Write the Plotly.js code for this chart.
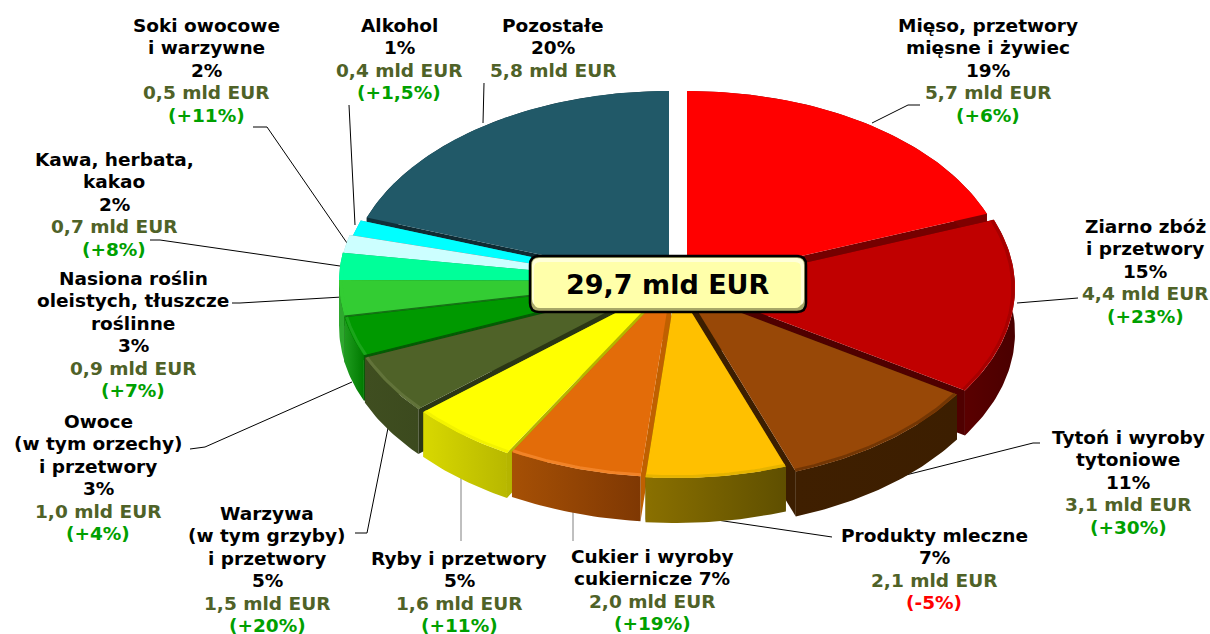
<!DOCTYPE html>
<html><head><meta charset="utf-8">
<script src="https://cdn.plot.ly/plotly-3.0.1.min.js"></script>
<style>html,body{margin:0;padding:0;background:#fff}#c{width:1210px;height:634px}</style>
</head><body><div id="c"></div>
<script>
// ---- data ----
const categories = ["Mięso, przetwory<br>mięsne i żywiec","Ziarno zbóż<br>i przetwory","Tytoń i wyroby<br>tytoniowe","Produkty mleczne","Cukier i wyroby<br>cukiernicze","Ryby i przetwory","Warzywa<br>(w tym grzyby)<br>i przetwory","Owoce<br>(w tym orzechy)<br>i przetwory","Nasiona roślin<br>oleistych, tłuszcze<br>roślinne","Kawa, herbata,<br>kakao","Soki owocowe<br>i warzywne","Alkohol","Pozostałe"];
const valuesMld = [5.7,4.4,3.1,2.1,2.0,1.6,1.5,1.0,0.9,0.7,0.5,0.4,5.8];
const shares = [19,15,11,7,7,5,5,3,3,2,2,1,20];
const growth = ["+6%","+23%","+30%","-5%","+19%","+11%","+20%","+4%","+7%","+8%","+11%","+1,5%",""];
const totalLabel = "29,7 mld EUR";

// ---- style ----
const topColors  = ["#ff0000","#c00000","#984807","#ffc000","#e36c09","#ffff00","#4f6228","#009900","#33cc33","#00ff99","#ccffff","#00ffff","#215968"];
const sideColors = ["#750000","#4f0000","#3c1e00","#6e5800","#c06000","#b5b500","#2b3615","#045c04","#167016","#2f8f6a","#7f9f9f","#2f9f9f","#0f2b33"];
const wallLeft   = ["#7f0000","#5a0000","#3f1f00","#8a7000","#a65005","#d8d800","#3f4e20","#1f9c1f","#2ea82e","#00c070","#a0d0d0","#00c0c0","#10303a"];
const wallRight  = ["#7f0000","#4a0000","#3c1e00","#5f4f00","#7f3803","#b8b800","#3c4a1e","#007a00","#2ea82e","#00c070","#a0d0d0","#00c0c0","#10303a"];
const rimColors  = ["#ff0000","#a00000","#6a3204","#e0b000","#f58a30","#f0f000","#66783e","#20a820","#33cc33","#00ff99","#ccffff","#00ffff","#215968"];
const offsetX = [9,16,8,-2,-7,-12,-17,-18,-18,-18,-18,-15,-9];
const offsetY = [-2,4,8,3,2,3,0,-2,-3,-2,0,1,-2];
const seamWedges = [7,8,9,10,11];
const centerX = 678, centerY = 284, radiusX = 321, radiusY = 191, depth = 45;
const labelX = [988,1145,1128,934,652,459,267,98,133,114,206,399,553];
const labelFirstY = [25,226,437,535,556,558,513,421,278,159,25,25,25];
const lineStep = 22.5;
const labelFont = "'DejaVu Sans', Verdana, sans-serif";
const leaderPaths = [
 ["M872,123 L908,105 L920,105","#000"],["M1017,303 L1078,298","#000"],["M890,479 L1033,443 L1040,443","#000"],
 ["M717,520 L832,537","#000"],["M573,512 L573,541","#808080"],["M461,476 L461,541","#808080"],
 ["M388,428 L367,533 L355,533","#000"],["M352,382 L205,447 L190,449","#000"],["M342,297 L240,303 L232,303","#000"],
 ["M340,266 L160,240 L150,240","#000"],["M347,243 L267,127 L253,127","#000"],["M355,225 L349,105","#000"],["M483,123 L484,83","#000"]
];

// ---- geometry from the values ----
const total = valuesMld.reduce((a,b)=>a+b,0);
let acc = 0;
const wedges = valuesMld.map((v,i)=>{ const a0=acc/total*2*Math.PI; acc+=v; const a1=acc/total*2*Math.PI;
  return {i,a0,a1,ax:centerX+offsetX[i],ay:centerY+offsetY[i],mid:(a0+a1)/2}; });
function rim(w,inset){ const n=Math.max(8,Math.ceil((w.a1-w.a0)*60)), p=[]; const k=inset||1;
  for(let j=0;j<=n;j++){ const t=w.a0+(w.a1-w.a0)*j/n; p.push([w.ax+radiusX*k*Math.sin(t), w.ay-radiusY*k*Math.cos(t)]); } return p; }
function poly(pts,extra){ const xs=pts.map(p=>p[0]),ys=pts.map(p=>p[1]); xs.push(xs[0]); ys.push(ys[0]);
  return Object.assign({type:'scatter',mode:'lines',x:xs,y:ys,fill:'toself',line:{width:0},hoverinfo:'skip',showlegend:false},extra); }
const traces=[];
wedges.slice().sort((p,q)=>Math.cos(q.mid)-Math.cos(p.mid)).forEach(w=>{
  const i=w.i, arc=rim(w);
  const down=p=>[p[0],p[1]+depth];
  const apex=[w.ax,w.ay];
  // radial side walls first, so the outer wall hides the one facing away
  [arc[0],arc[arc.length-1]].forEach(c=>traces.push(poly([apex,c,down(c),down(apex)],{fillcolor:sideColors[i]})));
  // outer wall
  traces.push(poly(arc.concat(arc.map(down).reverse()),{fillcolor:wallLeft[i],
    fillgradient:{type:'horizontal',colorscale:[[0,wallLeft[i]],[1,wallRight[i]]]}}));
  // top face
  traces.push(poly([apex].concat(arc),{fillcolor:topColors[i]}));
  // soft bevel along the rim
  const bevel=rim(w,0.993);
  traces.push({type:'scatter',mode:'lines',x:bevel.map(p=>p[0]),y:bevel.map(p=>p[1]),line:{width:3,color:rimColors[i]},opacity:Math.cos(w.mid)<0.2?0.8:0,hoverinfo:'skip',showlegend:false});
  // thin dark seam between the small neighbouring wedges
  if(seamWedges.includes(i)) traces.push({type:'scatter',mode:'lines',x:[apex[0],arc[0][0]],y:[apex[1],arc[0][1]],line:{width:1.2,color:sideColors[i]},hoverinfo:'skip',showlegend:false});
});

// ---- labels, one annotation per line so the line spacing can be tight ----
const annotations = [];
categories.forEach((c,i)=>{
  const lines = (i===4 ? c+" "+shares[i]+"%" : c+"<br>"+shares[i]+"%").split("<br>")
     .map(t=>({t,col:'#000'}));
  lines.push({t:valuesMld[i].toFixed(1).replace('.',',')+" mld EUR",col:'#4f6228'});
  if(growth[i]) lines.push({t:"("+growth[i]+")",col:growth[i][0]==='-'?"#ff0000":"#00a000"});
  lines.forEach((l,k)=>annotations.push({x:labelX[i],y:labelFirstY[i]+k*lineStep,xref:'x',yref:'y',text:"<b>"+l.t+"</b>",showarrow:false,
    xanchor:'center',yanchor:'middle',align:'center',font:{family:labelFont,size:18.5,color:l.col}}));
});
annotations.push({x:668,y:284,xref:'x',yref:'y',text:"<b>"+totalLabel+"</b>",showarrow:false,font:{family:labelFont,size:27,color:'#000'}});

function rr(x0,y0,x1,y1,r){return `M${x0+r},${y0} L${x1-r},${y0} Q${x1},${y0} ${x1},${y0+r} L${x1},${y1-r} Q${x1},${y1} ${x1-r},${y1} L${x0+r},${y1} Q${x0},${y1} ${x0},${y1-r} L${x0},${y0+r} Q${x0},${y0} ${x0+r},${y0} Z`;}
const shapes = leaderPaths.map(l=>({type:'path',path:l[0],layer:'below',line:{color:l[1],width:1},xref:'x',yref:'y'}));
shapes.push({type:'path',path:rr(530,256,806,312,9),layer:'above',xref:'x',yref:'y',fillcolor:'#a8a868',line:{color:'#000',width:2.5}});
shapes.push({type:'path',path:rr(532,258,804,306,7),layer:'above',xref:'x',yref:'y',fillcolor:'#ffffd8',line:{width:0}});
shapes.push({type:'path',path:rr(534,262,801,308,6),layer:'above',xref:'x',yref:'y',fillcolor:'#ffffaa',line:{width:0}});

Plotly.newPlot('c',traces,{
  width:1210,height:634,margin:{l:0,r:0,t:0,b:0},paper_bgcolor:'#fff',plot_bgcolor:'#fff',showlegend:false,
  xaxis:{range:[0,1210],visible:false,fixedrange:true},
  yaxis:{range:[634,0],visible:false,fixedrange:true},
  shapes,annotations
},{displayModeBar:false,staticPlot:true});
</script></body></html>
